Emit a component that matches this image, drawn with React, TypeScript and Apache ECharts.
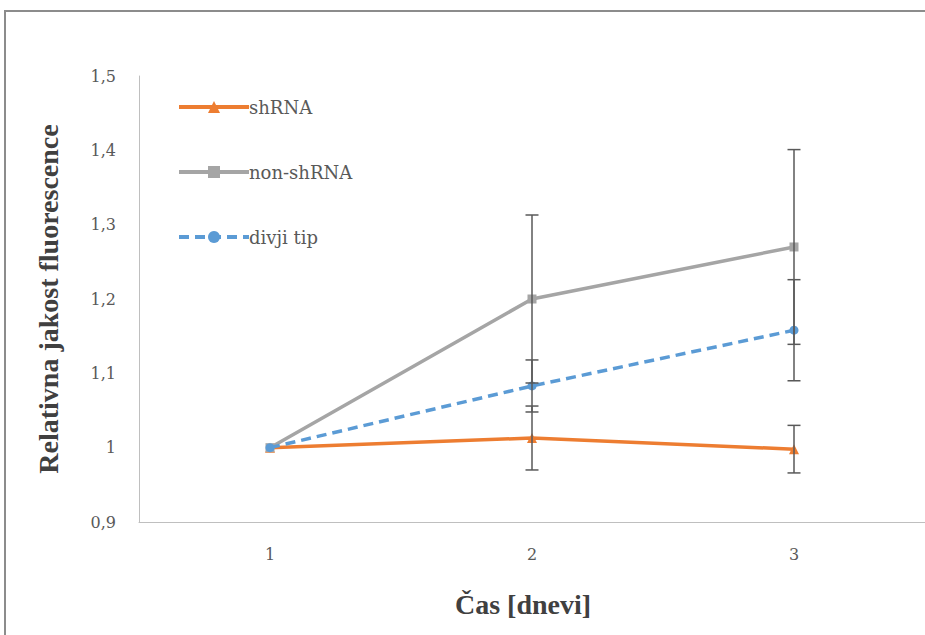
import React, { useEffect, useRef } from "react";
import * as echarts from "echarts";

const categories = ["1", "2", "3"];
const shRNA = [1, 1.013, 0.998];
const shRNAErr = [0, 0.043, 0.032];
const nonShRNA = [1, 1.2, 1.27];
const nonShRNAErr = [0, 0.113, 0.131];
const divji = [1, 1.083, 1.158];
const divjiErr = [0, 0.035, 0.068];

const seriesNames = ["shRNA", "non-shRNA", "divji tip"];
const colors = ["#ED7D31", "#A5A5A5", "#5B9BD5"];

const FONT = "DejaVu Serif, serif";
const BOLD_FONT = "Liberation Serif, serif";

function errData(vals: number[], errs: number[]) {
  return vals.map((v, i) => [i, v - errs[i], v + errs[i]]);
}

function errSeries(name: string, vals: number[], errs: number[]) {
  return {
    type: "custom",
    name: name + " err",
    z: 5,
    silent: true,
    data: errData(vals, errs).filter((d) => d[2] - d[1] > 0),
    renderItem: (params: any, api: any) => {
      const x = api.value(0);
      const lo = api.coord([x, api.value(1)]);
      const hi = api.coord([x, api.value(2)]);
      const half = 6.5;
      const style = { stroke: "#595959", lineWidth: 1.5 };
      return {
        type: "group",
        children: [
          { type: "line", shape: { x1: lo[0], y1: lo[1], x2: hi[0], y2: hi[1] }, style },
          { type: "line", shape: { x1: lo[0] - half, y1: lo[1], x2: lo[0] + half, y2: lo[1] }, style },
          { type: "line", shape: { x1: hi[0] - half, y1: hi[1], x2: hi[0] + half, y2: hi[1] }, style },
        ],
      };
    },
  };
}

export default function App() {
  const ref = useRef<HTMLDivElement>(null);
  useEffect(() => {
    if (!ref.current) return;
    const chart = echarts.init(ref.current, null, { renderer: "svg" });
    const lineSeries = [
      { data: shRNA, symbol: "triangle", symbolSize: 10, type: "solid" },
      { data: nonShRNA, symbol: "rect", symbolSize: 9, type: "solid" },
      { data: divji, symbol: "circle", symbolSize: 9, type: [10, 6] },
    ].map((s, i) => ({
      type: "line",
      name: seriesNames[i],
      data: s.data,
      symbol: s.symbol,
      symbolSize: s.symbolSize,
      showSymbol: true,
      z: 3 + i * 0.1,
      lineStyle: { color: colors[i], width: 3.5, type: s.type as any },
      itemStyle: { color: colors[i] },
    }));
    chart.setOption({
      animation: false,
      backgroundColor: "#ffffff",
      textStyle: { fontFamily: FONT },
      grid: { left: 139, top: 76, width: 792, height: 446, containLabel: false },
      legend: {
        orient: "vertical",
        left: 177,
        top: 98,
        padding: 0,
        itemWidth: 70,
        itemHeight: 15,
        itemGap: 47,
        data: seriesNames,
        lineStyle: { width: 4 },
        textStyle: { fontFamily: FONT, fontSize: 18, color: "#595959", padding: [0, 0, 0, -5] },
      },
      xAxis: {
        type: "category",
        data: categories,
        boundaryGap: true,
        axisLine: { lineStyle: { color: "#BFBFBF", width: 1 } },
        axisTick: { show: false },
        axisLabel: { fontFamily: FONT, fontSize: 16, color: "#595959", margin: 24 },
        name: "Čas [dnevi]",
        nameLocation: "middle",
        nameGap: 68,
        nameTextStyle: { fontFamily: BOLD_FONT, fontSize: 28, fontWeight: "bold", color: "#404040", padding: [0, 18, 0, 0] },
      },
      yAxis: {
        type: "value",
        min: 0.9,
        max: 1.5,
        interval: 0.1,
        splitLine: { show: false },
        axisLine: { show: true, lineStyle: { color: "#BFBFBF", width: 1 } },
        axisTick: { show: false },
        axisLabel: {
          fontFamily: FONT,
          fontSize: 16,
          color: "#595959",
          margin: 23,
          formatter: (v: number) => String(Math.round(v * 10) / 10).replace(".", ","),
        },
        name: "Relativna jakost fluorescence",
        nameLocation: "middle",
        nameGap: 77,
        nameTextStyle: { fontFamily: BOLD_FONT, fontSize: 28, fontWeight: "bold", color: "#404040" },
      },
      graphic: [
        {
          type: "rect",
          shape: { x: 5, y: 11, width: 1000, height: 700 },
          style: { fill: "none", stroke: "#8C8C8C", lineWidth: 2 },
          silent: true,
          z: 0,
        },
      ],
      series: [
        ...lineSeries,
        errSeries("shRNA", shRNA, shRNAErr),
        errSeries("non-shRNA", nonShRNA, nonShRNAErr),
        errSeries("divji tip", divji, divjiErr),
      ],
    });
    return () => chart.dispose();
  }, []);
  return (
    <div
      ref={ref}
      style={{ position: "fixed", left: 0, top: 0, width: 925, height: 635, background: "#fff" }}
    />
  );
}
